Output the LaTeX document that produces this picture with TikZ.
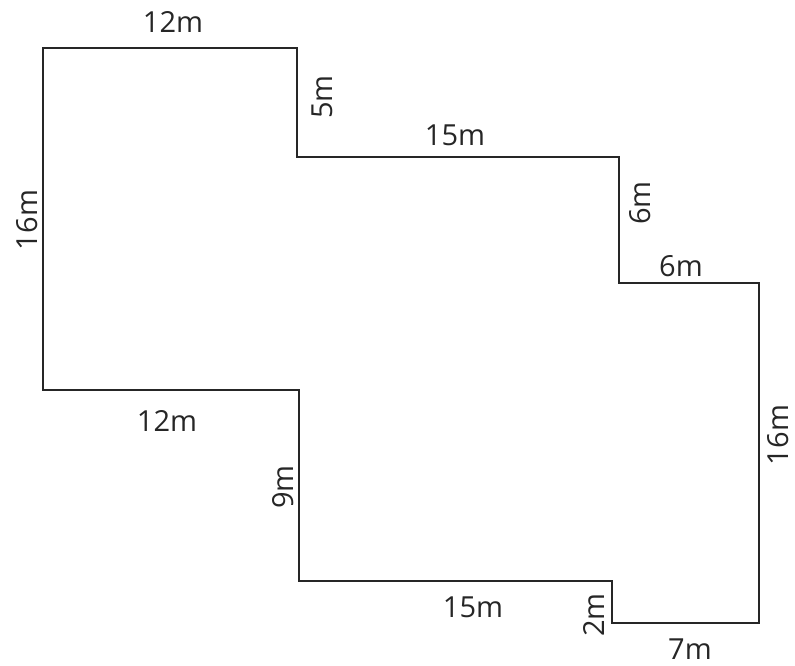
\documentclass[tikz,border=0pt]{standalone}
\usepackage{fontspec}
\setmainfont{Open Sans}
\begin{document}
\begin{tikzpicture}[x=1pt,y=-1pt,
  wall/.style={draw=black!85,line width=2.4pt,line join=miter},
  lbl/.style={font=\fontsize{29}{33}\selectfont,text=black!85,inner sep=0pt},
  vlbl/.style={lbl,rotate=90}]
\useasboundingbox (0,0) rectangle (795,666);
\coordinate (p1) at (43,48);
\coordinate (p2) at (297,48);
\coordinate (p3) at (297,157);
\coordinate (p4) at (619,157);
\coordinate (p5) at (619,283);
\coordinate (p6) at (759,283);
\coordinate (p7) at (759,623);
\coordinate (p8) at (612,623);
\coordinate (p9) at (612,581);
\coordinate (p10) at (299,581);
\coordinate (p11) at (299,390);
\coordinate (p12) at (43,390);
\draw[wall] (p1) -- (p2) -- (p3) -- (p4) -- (p5) -- (p6) -- (p7) -- (p8) -- (p9) -- (p10) -- (p11) -- (p12) -- cycle;
\node[lbl] (l1) at (173,22) {12m};
\node[vlbl] (l2) at (322,97) {5m};
\node[lbl] (l3) at (455,135) {15m};
\node[vlbl] (l4) at (640,203) {6m};
\node[lbl] (l5) at (681,266) {6m};
\node[vlbl,text depth=0pt,anchor=south] (l6) at (789,435) {16m};
\node[lbl,text depth=0pt,anchor=south] (l7) at (690,660) {7m};
\node[vlbl] (l8) at (594,615) {2m};
\node[lbl] (l9) at (473,607) {15m};
\node[vlbl] (l10) at (283,487) {9m};
\node[lbl] (l11) at (167,421) {12m};
\node[vlbl] (l12) at (27,220) {16m};
\end{tikzpicture}
\end{document}
